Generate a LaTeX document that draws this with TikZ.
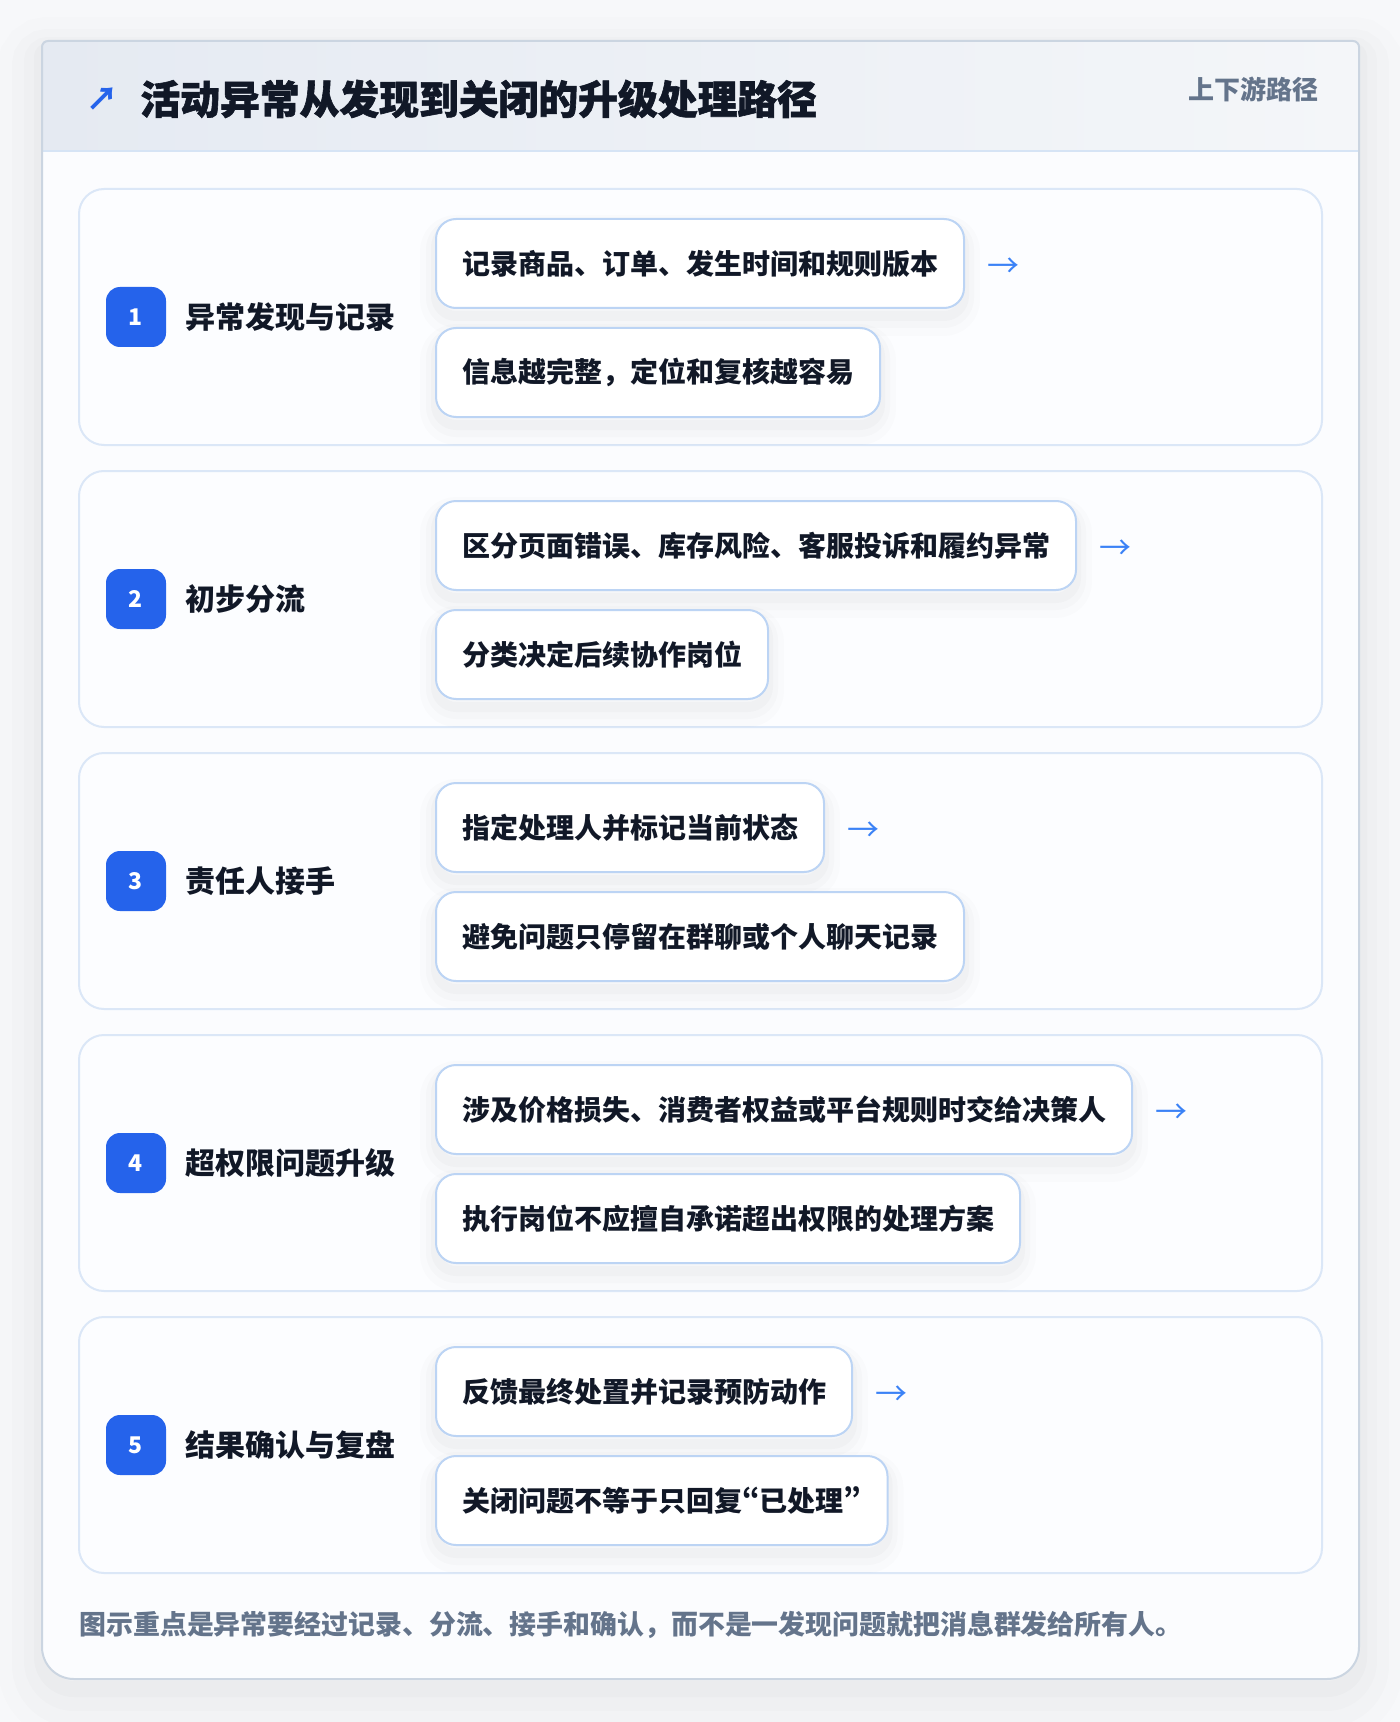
\documentclass[tikz,border=0pt]{standalone}
\usepackage{fontspec}
\setmainfont{Noto Sans CJK SC}
\definecolor{pagebg}{HTML}{F7F8FA}
\definecolor{cardfill}{HTML}{FBFCFE}
\definecolor{cardline}{HTML}{CBD5E1}
\definecolor{hdrL}{HTML}{E5EAF2}
\definecolor{hdrR}{HTML}{F4F6F9}
\definecolor{hdrline}{HTML}{D6E4F5}
\definecolor{rowfill}{HTML}{FCFDFF}
\definecolor{rowline}{HTML}{DBE7F7}
\definecolor{itemline}{HTML}{BCD4F4}
\definecolor{ink}{HTML}{111827}
\definecolor{muted}{HTML}{64748B}
\definecolor{badgeblue}{HTML}{2563EB}
\definecolor{arrowblue}{HTML}{3B82F6}
\newcommand{\pq}[1]{{\addfontfeature{RawFeature=+pwid}#1}}
\begin{document}
\begin{tikzpicture}[x=0.5pt,y=-0.5pt,
  rowbox/.style={draw=rowline, line width=1pt, fill=rowfill, rounded corners=12.5pt,
    minimum width=621.5pt, minimum height=128pt, inner sep=0pt},
  softshadow/.style={
    preaction={draw=black, draw opacity=0.010, line width=16pt, transform canvas={yshift=-6pt}},
    preaction={draw=black, draw opacity=0.014, line width=10pt, transform canvas={yshift=-5pt}},
    preaction={draw=black, draw opacity=0.018, line width=5pt, transform canvas={yshift=-4pt}}},
  itembox/.style={softshadow, draw=itemline, line width=1pt, fill=white, rounded corners=10pt,
    anchor=north west, inner xsep=13pt, inner ysep=0pt, minimum height=44.5pt,
    font=\bfseries\fontsize{14pt}{16pt}\selectfont, text=ink},
  badge/.style={fill=badgeblue, rounded corners=7pt, minimum size=30pt, inner sep=0pt,
    text=white, font=\bfseries\fontsize{11.5pt}{12pt}\selectfont},
  steplabel/.style={anchor=west, inner sep=0pt, text=ink,
    font=\bfseries\fontsize{15pt}{17pt}\selectfont},
  flowarrow/.style={anchor=west, inner sep=0pt, text=arrowblue,
    font=\fontsize{16pt}{18pt}\selectfont}]
% page
\fill[pagebg] (0,0) rectangle (1400,1722);
\useasboundingbox (0,0) rectangle (1400,1722);
% card with soft shadow
\path[fill=cardfill,
    preaction={draw=black, draw opacity=0.008, line width=44pt, transform canvas={yshift=-10pt}},
    preaction={draw=black, draw opacity=0.010, line width=30pt, transform canvas={yshift=-9pt}},
    preaction={draw=black, draw opacity=0.012, line width=18pt, transform canvas={yshift=-7pt}},
    preaction={draw=black, draw opacity=0.015, line width=8pt, transform canvas={yshift=-5pt}}]
  (42,41) [rounded corners=3pt] -- (1359,41) [rounded corners=16pt] -- (1359,1679) -- (42,1679) [rounded corners=3pt] -- cycle;
\fill[left color=hdrL, right color=hdrR] (43,42) rectangle (1358,151);
\draw[hdrline, line width=1pt] (43,151) -- (1358,151);
\draw[cardline, line width=1pt]
  (42,41) [rounded corners=3pt] -- (1359,41) [rounded corners=16pt] -- (1359,1679) -- (42,1679) [rounded corners=3pt] -- cycle;
% header
\node[text=badgeblue, font=\bfseries\fontsize{16pt}{18pt}\selectfont, inner sep=0pt] (icon) at (102,99) {↗};
\node[anchor=west, text=ink, inner sep=0pt, font=\bfseries\fontsize{19.9pt}{22pt}\selectfont\addfontfeatures{FakeBold=1.5}] (title) at (140,99) {活动异常从发现到关闭的升级处理路径};
\node[anchor=east, text=muted, inner sep=0pt, font=\bfseries\fontsize{13pt}{15pt}\selectfont] (tag) at (1319,89) {上下游路径};
% rows
\foreach \i/\lab/\ta/\tb [evaluate=\i as \top using 189+282*(\i-1)] in {
  1/异常发现与记录/记录商品、订单、发生时间和规则版本/信息越完整，定位和复核越容易,
  2/初步分流/区分页面错误、库存风险、客服投诉和履约异常/分类决定后续协作岗位,
  3/责任人接手/指定处理人并标记当前状态/避免问题只停留在群聊或个人聊天记录,
  4/超权限问题升级/涉及价格损失、消费者权益或平台规则时交给决策人/执行岗位不应擅自承诺超出权限的处理方案,
  5/结果确认与复盘/反馈最终处置并记录预防动作/关闭问题不等于只回复\pq{“}已处理\pq{”}}{
  \node[rowbox] (row\i) at (700.5,\top+128) {};
  \node[badge] (badge\i) at (136,\top+128) {\i};
  \node[steplabel] (lab\i) at (185,\top+128) {\lab};
  \node[itembox] (a\i) at (435,\top+29) {\ta};
  \node[itembox] (b\i) at (435,\top+138) {\tb};
  \node[flowarrow] (arr\i) at ([xshift=11pt,yshift=-2pt]a\i.east) {→};
}
% footnote
\node[anchor=west, text=muted, inner sep=0pt, font=\bfseries\fontsize{13.45pt}{15pt}\selectfont] (note) at (79,1625) {图示重点是异常要经过记录、分流、接手和确认，而不是一发现问题就把消息群发给所有人。};
\end{tikzpicture}
\end{document}
